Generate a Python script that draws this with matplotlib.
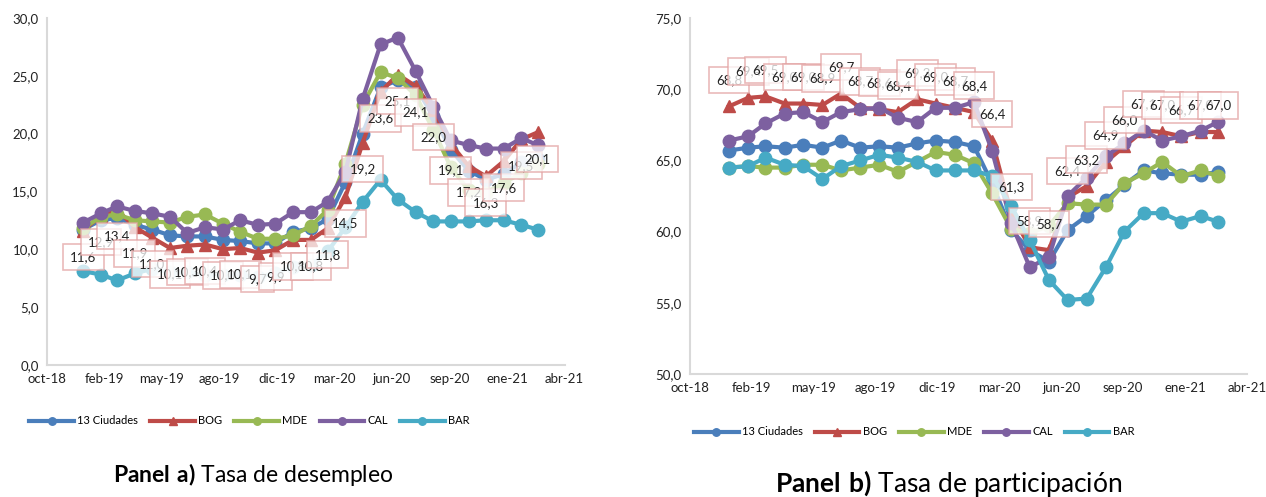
import matplotlib
matplotlib.use("Agg")
import matplotlib.pyplot as plt
from matplotlib.ticker import FuncFormatter
import pandas as pd
import numpy as np

plt.rcParams['font.family'] = ['Lato', 'DejaVu Sans']
plt.rcParams['mathtext.fontset'] = 'custom'
plt.rcParams['mathtext.rm'] = 'Lato'
plt.rcParams['mathtext.bf'] = 'Lato:bold'

# meses: ene-2019 a mar-2021
fechas = pd.date_range('2019-01-01', periods=27, freq='MS')
series = ['13 Ciudades', 'BOG', 'MDE', 'CAL', 'BAR']
colores = ['#4a7ebb', '#be4b48', '#98b954', '#7d60a0', '#46aac5']
marcadores = ['o', '^', 'o', 'o', 'o']

# Panel a) Tasa de desempleo
td_13 = [11.7, 12.5, 12.7, 12.1, 11.7, 11.2, 11.1, 11.1, 10.8, 10.7, 10.5, 10.5, 11.5,
         11.8, 12.6, 15.8, 20.0, 24.0, 24.6, 24.0, 21.5, 18.6, 16.8, 16.0, 16.5, 17.5, 17.8]
td_bog = [11.6, 12.9, 13.4, 11.9, 11.0, 10.1, 10.3, 10.4, 10.0, 10.1, 9.7, 9.9, 10.8,
          10.8, 11.8, 14.5, 19.2, 23.6, 25.1, 24.1, 22.0, 19.1, 17.2, 16.3, 17.6, 19.5, 20.1]
td_mde = [11.8, 12.8, 13.0, 12.5, 12.4, 12.3, 12.8, 13.0, 12.2, 11.5, 10.9, 10.9, 11.2,
          12.0, 13.4, 17.4, 22.5, 25.3, 24.8, 23.3, 20.3, 17.1, 15.1, 14.9, 15.7, 16.6, 17.4]
td_cal = [12.3, 13.1, 13.7, 13.3, 13.1, 12.8, 11.4, 11.9, 11.7, 12.5, 12.1, 12.2, 13.2,
          13.2, 14.1, 16.7, 23.0, 27.7, 28.3, 25.4, 22.3, 19.4, 19.0, 18.7, 18.7, 19.6, 19.0]
td_bar = [8.1, 7.8, 7.3, 7.9, 8.3, 8.0, 8.0, 7.8, 7.8, 7.8, 7.6, 7.9, 8.5,
          8.6, 9.8, 11.9, 14.1, 16.0, 14.3, 13.2, 12.4, 12.4, 12.4, 12.5, 12.5, 12.1, 11.7]

# Panel b) Tasa de participacion
tgp_13 = [65.7, 65.9, 66.0, 65.9, 66.1, 65.9, 66.4, 65.9, 66.0, 65.9, 66.2, 66.4, 66.3,
          66.0, 63.4, 60.1, 58.7, 57.9, 60.1, 61.1, 62.2, 63.3, 64.3, 64.1, 64.0, 64.0, 64.2]
tgp_bog = [68.8, 69.4, 69.5, 69.0, 69.0, 68.9, 69.7, 68.7, 68.6, 68.4, 69.3, 69.0, 68.7,
           68.4, 66.4, 61.3, 58.9, 58.7, 62.4, 63.2, 64.9, 66.0, 67.1, 67.0, 66.7, 67.0, 67.0]
tgp_mde = [64.5, 64.6, 64.5, 64.5, 64.7, 64.7, 64.3, 64.5, 64.7, 64.2, 64.9, 65.6, 65.4,
           64.8, 62.7, 60.2, 59.9, 60.4, 62.0, 61.9, 61.9, 63.4, 64.1, 64.9, 63.9, 64.3, 63.9]
tgp_cal = [66.4, 66.7, 67.6, 68.3, 68.4, 67.7, 68.4, 68.6, 68.7, 68.0, 67.7, 68.7, 68.7,
           69.1, 65.7, 60.6, 57.5, 58.2, 62.5, 63.8, 65.3, 66.2, 67.1, 66.4, 66.7, 67.1, 67.7]
tgp_bar = [64.5, 64.6, 65.2, 64.7, 64.6, 63.7, 64.6, 65.0, 65.4, 65.2, 64.9, 64.3, 64.3,
           64.3, 63.9, 61.8, 59.4, 56.6, 55.2, 55.3, 57.5, 60.0, 61.3, 61.3, 60.7, 61.1, 60.7]

etiquetas_x = ['oct-18', 'feb-19', 'may-19', 'ago-19', 'dic-19',
               'mar-20', 'jun-20', 'sep-20', 'ene-21', 'abr-21']

inicio = pd.Timestamp('2018-10-30')
ticks_x = [inicio + pd.Timedelta(days=100 * i) for i in range(len(etiquetas_x))]

fig = plt.figure(figsize=(12.66, 4.97), dpi=100)
ax1 = fig.add_axes([0.037, 0.266, 0.409, 0.698])
ax2 = fig.add_axes([0.545, 0.2475, 0.44, 0.716])

coma = FuncFormatter(lambda v, p: ('%.1f' % v).replace('.', ','))


def dibujar(ax, datos, ylim, yticks, dy):
    for nombre, y, c, m in zip(series, datos, colores, marcadores):
        ax.plot(fechas, y, color=c, lw=3, marker=m, ms=9, label=nombre,
                solid_joinstyle='round')
    # etiquetas de BOG
    for x, v in zip(fechas, datos[1]):
        ax.annotate(('%.1f' % v).replace('.', ','), (x, v), xytext=(0, dy),
                    textcoords='offset points', ha='center', va='center',
                    fontsize=9.5, color='#222222', zorder=10,
                    bbox=dict(boxstyle='square,pad=0.55', fc='white', alpha=0.75,
                              ec='#e3a3a3', lw=1.2))
    ax.set_xlim(ticks_x[0], ticks_x[-1])
    ax.set_xticks(ticks_x)
    ax.set_xticklabels(etiquetas_x)
    ax.set_ylim(*ylim)
    ax.set_yticks(yticks)
    ax.yaxis.set_major_formatter(coma)
    for s in ['top', 'right']:
        ax.spines[s].set_visible(False)
    for s in ['left', 'bottom']:
        ax.spines[s].set_color('#d9d9d9')
        ax.spines[s].set_linewidth(1.5)
    ax.tick_params(length=0, labelsize=9.5, colors='#222222', pad=6)


dibujar(ax1, [td_13, td_bog, td_mde, td_cal, td_bar], (0, 30), np.arange(0, 31, 5), -19)
dibujar(ax2, [tgp_13, tgp_bog, tgp_mde, tgp_cal, tgp_bar], (50, 75), np.arange(50, 76, 5), 19)

ley = dict(loc='center', ncol=5, frameon=False, fontsize=8, handlelength=4.0,
           handletextpad=0.3, columnspacing=1.1, markerscale=0.6,
           bbox_transform=fig.transFigure)
ax1.legend(bbox_to_anchor=(0.197, 0.153), **ley)
ax2.legend(bbox_to_anchor=(0.722, 0.131), **ley)

fig.text(0.20, 0.045, r'$\bf{Panel\ a)}$ Tasa de desempleo', ha='center', va='center',
         fontsize=16.5)
fig.text(0.749, 0.027, r'$\bf{Panel\ b)}$ Tasa de participación', ha='center', va='center',
         fontsize=19)

fig.savefig('out.png', dpi=100)
